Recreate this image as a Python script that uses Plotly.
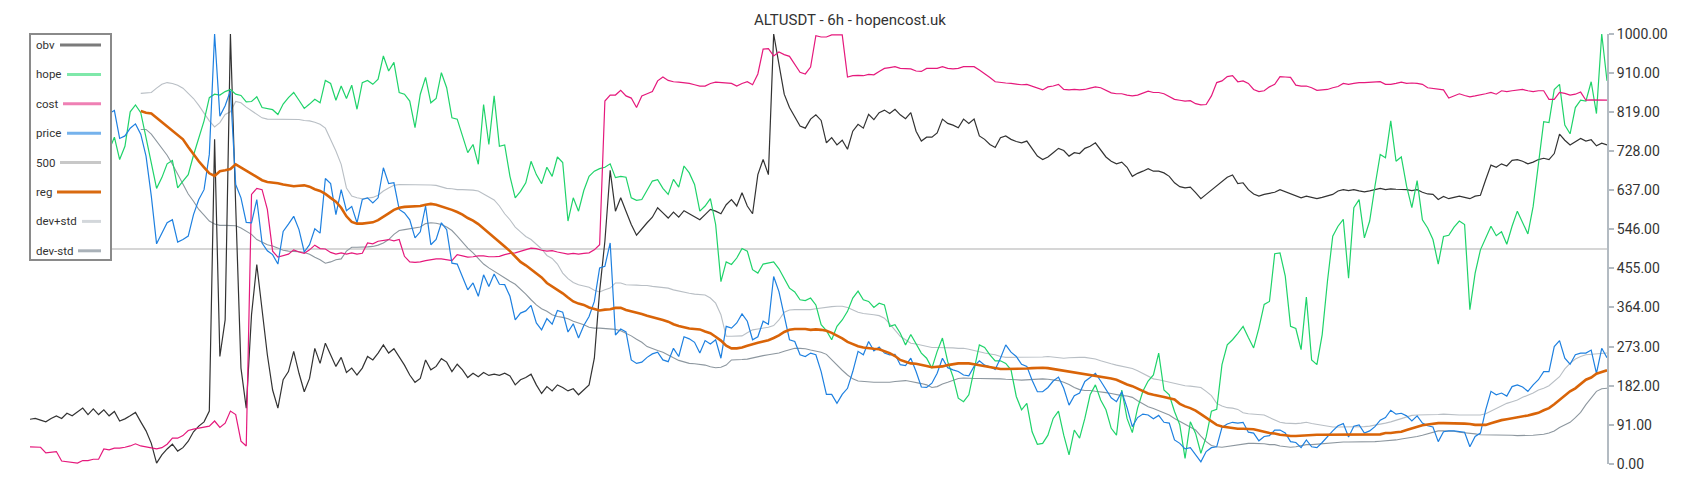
import plotly.graph_objects as go

N_POINTS = 300
REG_START = 21

obv = [104,106,102,98,106,112,106,118,112,122,130,115,128,115,126,112,122,100,105,112,120,
       98,77,48,2,21,35,46,30,38,53,75,88,98,123,755,250,335,1000,600,223,
       130,347,464,363,254,172,130,196,215,262,211,168,199,269,234,281,254,227,248,213,
       223,207,223,250,242,258,277,258,268,250,230,207,190,199,
       242,219,227,245,237,215,232,219,201,211,203,213,206,209,206,211,205,184,196,201,209,184,164,180,170,184,178,170,175,161,172,184,246,402,518,683,588,619,588,557,532,547,561,574,596,584,572,586,574,589,582,575,568,580,592,588,582,603,615,600,631,600,582,673,708,673,1000,930,860,829,809,786,781,802,
       812,799,747,759,742,753,732,774,790,781,813,801,817,823,815,825,812,803,817,774,751,760,760,770,802,792,788,782,802,792,802,763,755,743,736,759,763,755,750,747,751,732,716,708,714,724,734,729,716,724,722,734,739,747,729,714,704,698,702,690,669,676,681,687,681,681,677,669,654,645,642,644,631,617,
       627,637,646,658,667,672,652,654,638,628,623,627,629,632,638,633,628,624,619,623,620,617,620,624,627,635,638,636,638,635,633,635,638,641,638,640,639,639,638,636,638,632,628,627,615,622,617,620,623,620,617,623,625,661,695,690,698,693,706,708,704,698,702,708,711,708,722,767,753,742,750,757,751,754,740,746,742]

hope = [760,740,780,800,770,720,750,790,810,780,760,740,770,790,760,730,
        760,708,739,819,835,817,759,700,641,666,698,706,642,658,673,718,759,798,852,860,858,866,871,860,857,842,843,854,829,827,824,813,837,852,864,846,827,837,848,840,892,885,846,879,850,881,825,887,892,883,895,949,914,934,864,860,844,782,860,
        899,840,850,910,875,805,802,763,724,743,697,836,743,856,739,742,669,619,634,654,704,673,652,690,669,714,701,565,619,588,636,669,681,687,690,698,666,669,667,619,613,615,638,658,661,641,627,662,644,693,677,650,588,600,617,557,424,470,464,479,501,495,452,444,465,467,470,454,432,409,400,382,380,386,
        370,324,310,289,320,335,355,386,402,382,378,364,374,370,320,324,304,277,301,281,258,246,223,262,293,238,203,153,145,161,223,277,271,254,240,240,234,219,157,126,141,75,46,48,67,106,123,67,21,79,60,106,161,184,149,126,83,67,172,106,73,130,169,193,207,258,172,161,122,91,13,98,71,25,
        63,123,127,231,277,289,304,320,294,270,316,371,378,489,491,437,320,315,266,388,242,231,301,425,530,553,569,432,596,615,526,565,646,720,712,798,704,714,646,596,659,568,549,522,465,529,532,551,565,557,359,444,498,526,553,531,540,511,553,588,563,535,599,697,796,794,871,883,788,768,829,846,844,889,815,1000,891]

cost = [40,40,39,26,27,29,7,5,3,2,8,8,11,11,35,33,37,37,39,42,47,42,40,37,35,38,46,60,60,66,78,81,83,86,88,100,85,95,123,115,53,42,627,641,638,592,495,481,485,488,498,493,490,498,509,501,500,492,488,491,488,491,488,490,514,512,518,520,522,519,522,483,470,469,470,
        473,475,477,477,475,473,487,484,481,482,484,484,482,482,483,487,490,491,495,498,502,501,497,495,496,493,490,488,490,488,490,491,498,510,844,858,858,869,856,851,829,856,861,866,891,900,892,889,888,887,885,882,879,879,885,888,887,887,885,879,885,889,882,907,965,966,949,958,952,948,930,911,907,923,
        996,993,993,998,998,998,900,903,904,903,906,905,913,920,922,924,920,920,919,914,913,920,920,920,924,920,919,920,924,924,924,916,908,899,889,887,886,885,883,882,883,879,875,870,877,879,883,871,870,871,870,871,874,877,875,868,863,861,861,858,856,858,862,867,864,864,861,855,848,846,844,845,838,835,
        836,856,887,891,901,903,889,891,885,871,866,868,877,883,901,900,899,881,879,879,875,869,870,871,875,878,885,883,885,887,887,888,889,889,883,883,885,888,885,886,885,883,875,873,871,870,851,856,861,857,854,856,858,861,864,860,868,866,868,869,871,868,866,868,868,848,848,864,862,858,860,865,846,847,847,846,846]

price = [790,800,812,805,820,810,798,805,815,808,795,802,812,820,810,815,
         822,757,763,781,791,767,716,623,512,537,561,568,516,522,530,580,615,638,720,1000,809,833,868,650,619,562,561,615,514,496,487,465,541,558,576,545,493,510,547,537,664,652,580,638,589,599,561,615,619,607,619,689,652,654,592,584,568,526,540,
         600,510,522,561,545,467,465,436,405,421,390,440,413,442,418,417,390,335,351,356,369,328,312,338,325,357,353,307,326,293,322,343,378,456,460,514,300,314,307,242,234,237,248,256,260,242,238,269,250,296,291,283,258,287,279,289,246,320,316,328,349,332,289,296,332,325,436,401,341,289,285,254,250,258,
         254,215,162,162,141,162,176,215,262,254,285,263,272,258,254,255,231,229,246,215,179,178,188,211,246,224,219,215,207,205,227,240,230,226,220,246,277,260,250,232,227,195,168,168,178,193,202,176,137,159,165,192,201,211,193,172,154,145,168,131,87,108,116,114,105,113,97,95,56,48,35,38,21,5,
         29,38,40,85,93,97,95,97,74,72,54,64,66,79,79,72,52,50,38,56,40,38,50,64,77,89,94,63,88,91,72,77,87,102,108,125,116,118,112,100,112,95,89,86,52,75,77,77,75,74,40,64,72,126,169,161,165,158,180,184,179,169,184,196,215,215,273,287,246,232,254,258,258,265,211,269,247]

level_500 = [500, 500]

reg = [821,817,815,805,796,785,776,765,755,737,720,704,690,676,670,681,683,686,697,690,683,676,667,660,656,655,653,650,648,646,647,648,645,639,635,628,619,610,596,576,563,559,559,560,562,567,574,583,591,596,598,599,600,600,
       603,605,603,599,596,591,586,580,572,566,558,548,537,528,518,506,495,482,470,462,453,444,434,421,413,406,397,387,378,373,370,364,360,357,359,360,363,363,358,355,353,349,345,342,338,335,331,325,321,318,315,314,313,308,304,296,287,275,269,269,271,275,279,282,285,288,293,299,307,312,314,314,314,312,
       313,312,310,305,299,292,284,279,274,271,269,268,267,263,258,251,242,238,234,233,231,228,225,226,227,230,232,234,234,234,232,230,227,225,223,221,221,221,221,221,222,223,224,224,223,221,220,218,216,214,211,209,207,205,203,202,199,196,190,185,181,175,170,164,161,159,156,153,150,140,134,130,124,116,
       108,100,91,87,85,83,82,82,82,81,78,75,72,71,68,67,65,65,66,67,68,68,68,68,68,68,69,68,68,68,68,68,68,69,72,72,74,75,79,83,87,90,92,94,95,95,95,94,94,94,93,91,91,91,95,99,102,104,106,108,110,113,116,119,125,130,139,149,159,169,176,186,196,201,210,214,218]

dev_plus = [862,863,864,874,883,887,885,881,874,862,850,834,817,798,784,794,813,819,843,840,830,821,812,805,802,802,802,802,802,802,801,799,798,795,790,781,755,728,697,642,623,619,617,619,620,625,635,642,648,650,650,650,650,650,
            650,649,648,645,641,640,638,638,638,637,635,628,620,614,600,582,568,551,540,529,522,510,500,485,478,465,444,431,422,417,414,411,404,400,405,409,421,421,417,417,416,415,415,413,412,411,409,405,402,399,397,395,394,393,386,374,347,297,297,297,298,305,312,314,316,318,322,335,353,358,359,359,359,359,
            361,363,364,366,367,367,364,359,353,350,349,347,345,339,326,312,297,289,281,279,276,274,271,271,271,271,270,269,269,267,264,260,258,256,254,250,248,248,248,248,248,248,248,249,250,249,248,246,247,248,248,248,246,244,240,236,233,230,227,225,222,217,210,203,198,196,193,191,188,185,182,181,180,178,
            169,159,141,135,131,130,127,119,117,116,115,114,108,102,97,95,94,94,95,97,94,92,89,87,86,86,86,87,87,87,87,88,90,92,95,98,102,106,110,113,114,114,114,114,115,116,115,114,114,114,114,114,114,117,123,130,136,141,145,149,155,160,165,172,176,182,193,203,221,234,244,250,254,255,256,257,258]

dev_minus = [778,778,767,751,736,718,697,673,652,628,611,592,579,565,558,555,555,555,554,549,541,534,522,516,510,507,502,497,495,495,494,492,488,481,475,467,470,475,477,495,504,504,504,505,506,509,514,522,534,543,545,547,549,551,
             559,561,560,557,551,543,530,516,502,491,479,465,456,448,440,431,425,418,407,395,382,370,361,355,347,343,341,338,332,328,324,318,316,316,315,314,313,310,304,298,290,283,273,268,264,260,253,247,241,237,234,233,232,230,226,224,225,230,242,242,243,244,247,249,252,254,256,258,262,266,269,269,268,265,
             263,260,255,242,230,218,207,198,193,192,190,190,190,190,190,192,193,194,192,190,187,184,178,180,186,190,195,199,200,199,199,199,199,199,198,198,197,197,196,195,196,197,198,198,197,196,194,190,185,178,173,171,171,169,168,166,164,161,159,158,155,147,140,133,129,124,119,114,106,99,92,86,79,65,
             52,43,40,39,41,43,45,47,48,48,48,47,45,45,42,40,39,40,43,45,45,46,47,48,50,51,51,51,51,52,51,51,52,53,54,54,56,58,60,61,64,67,70,74,77,77,77,76,74,73,71,70,68,68,68,68,68,68,67,66,66,66,67,68,69,72,77,85,91,97,108,120,138,153,169,175,176]

tick_values = [0, 91, 182, 273, 364, 455, 546, 637, 728, 819, 910, 1000]
tick_labels = ["%.2f" % v for v in tick_values]

legend_names = ["obv", "hope", "cost", "price", "500", "reg", "dev+std", "dev-std"]

x_all = list(range(N_POINTS))
x_band = list(range(REG_START, N_POINTS))

FONT = "Roboto, 'Open Sans', Arial, sans-serif"

fig = go.Figure()

def add_line(name, xs, ys, color, width):
    fig.add_trace(go.Scatter(x=xs, y=ys, mode="lines", name=name,
                             line=dict(color=color, width=width),
                             hoverinfo="skip", showlegend=False))

add_line("500", [0, N_POINTS - 1], level_500, "#c9c9c9", 1.6)
add_line("dev+std", x_band, dev_plus, "#b9bfc5", 1.1)
add_line("dev-std", x_band, dev_minus, "#8d979f", 1.1)
add_line("obv", x_all, obv, "#333333", 1.2)
add_line("hope", x_all, hope, "#1fd36a", 1.2)
add_line("cost", x_all, cost, "#e5197c", 1.2)
add_line("price", x_all, price, "#1e80e0", 1.2)
add_line("reg", x_band, reg, "#d96408", 2.6)

# ---- layout geometry (figure pixels; page has an 8px body margin) ----
OFF = 8
W, H = 1700, 500
PLOT_L, PLOT_R, PLOT_T, PLOT_B = 30 - OFF, 1607 - OFF, 34 - OFF, 464 - OFF
ML, MT = PLOT_L, PLOT_T
MR, MB = W - PLOT_R, H - PLOT_B
PW = PLOT_R - PLOT_L
PH = PLOT_B - PLOT_T

def px_x(p):
    # p: page pixel x
    return (p - OFF - PLOT_L) / PW

def px_y(p):
    # p: page pixel y
    return (PLOT_B - (p - OFF)) / PH

shapes = []
annotations = []

# custom legend box (text left, line sample right)
shapes.append(dict(type="rect", xref="paper", yref="paper",
                   x0=px_x(30), x1=px_x(111), y0=px_y(260), y1=px_y(34),
                   line=dict(color="#8a8a8a", width=2), fillcolor="white", layer="above"))
legend_colors = ["#7b7b7b", "#7fe8aa", "#ef80b4", "#75b2ec", "#c8c8c8", "#d96a10", "#d3d7db", "#a9b1b8"]
legend_line_start = [60, 67, 63, 67, 60, 57, 82, 78]
for k, nm in enumerate(legend_names):
    yc = 45 + 29.4 * k
    annotations.append(dict(xref="paper", yref="paper", x=px_x(34), y=px_y(yc),
                            text=nm, showarrow=False, xanchor="left", yanchor="middle",
                            font=dict(family=FONT, size=11.5, color="#333333")))
    shapes.append(dict(type="line", xref="paper", yref="paper",
                       x0=px_x(legend_line_start[k]), x1=px_x(101), y0=px_y(yc), y1=px_y(yc),
                       line=dict(color=legend_colors[k], width=3), layer="above"))

fig.update_layout(
    width=W, height=H,
    margin=dict(l=ML, r=MR, t=MT, b=MB, autoexpand=False),
    paper_bgcolor="white", plot_bgcolor="white",
    showlegend=False,
    title=dict(text="ALTUSDT - 6h - hopencost.uk", x=(850 - OFF) / W, xanchor="center",
               y=1 - (19.5 - OFF) / H, yanchor="middle",
               font=dict(family=FONT, size=15, color="#333333")),
    xaxis=dict(visible=False, range=[0, N_POINTS - 1], fixedrange=True),
    yaxis=dict(side="right", range=[0, 1000], tickvals=tick_values, ticktext=tick_labels,
               showgrid=False, zeroline=False, showline=True, linecolor="#b3bbc2", linewidth=2,
               ticks="outside", ticklen=5, tickcolor="#b3bbc2", tickwidth=2,
               tickfont=dict(family=FONT, size=14, color="#333333")),
    shapes=shapes, annotations=annotations,
    font=dict(family=FONT),
)

fig.write_html("out.html")
